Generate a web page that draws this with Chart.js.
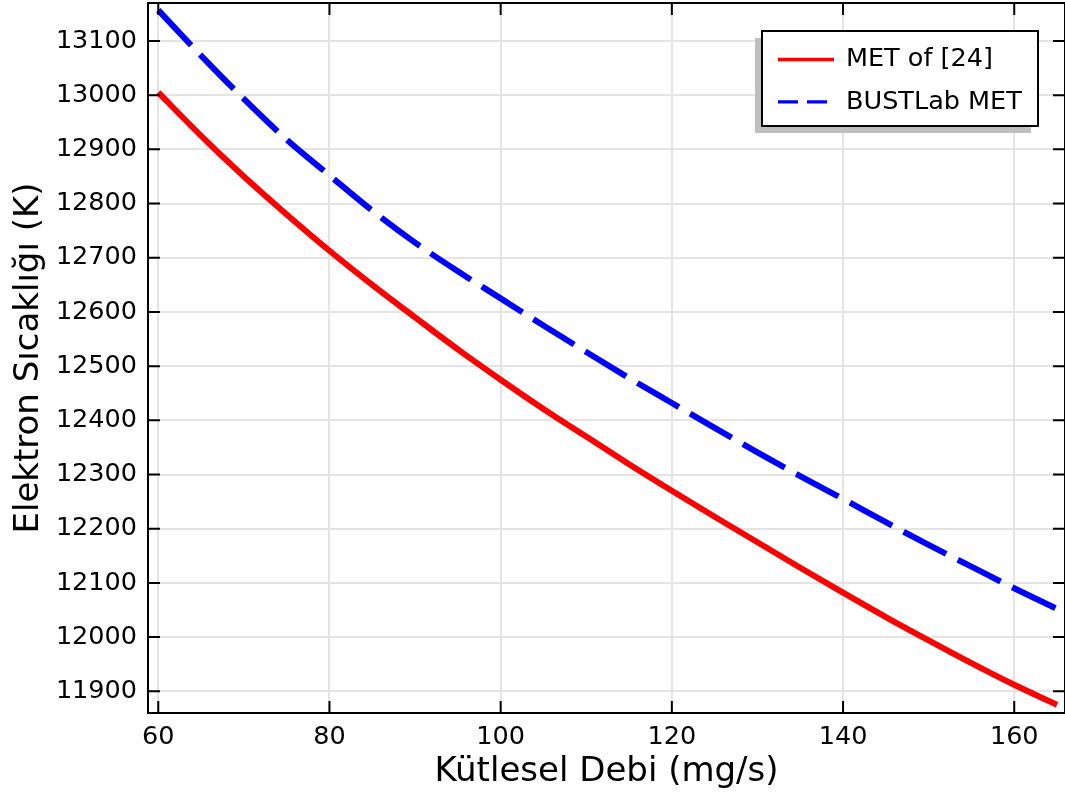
<!DOCTYPE html>
<html>
<head>
<meta charset="utf-8">
<script src="https://cdn.jsdelivr.net/npm/chart.js@4.4.1/dist/chart.umd.min.js"></script>
<style>
html,body{margin:0;padding:0;background:#fff;overflow:hidden}
canvas{display:block}
</style>
</head>
<body>
<canvas id="chart" width="1065" height="796"></canvas>
<script>
// mass flow rate (mg/s) and electron temperature (K) for both thrusters
const massFlow=[60,65,70,75,80,85,90,95,100,105,110,115,120,125,130,135,140,145,150,155,160,165];
const metRef=[13005,12925,12850,12780,12713,12650,12590,12531,12475,12421,12370,12319,12270,12222,12175,12128,12082,12037,11994,11952,11912,11875];
const bustlab=[13157,13073,12993,12918,12852,12787,12728,12675,12625,12575,12526,12478,12432,12386,12341,12297,12255,12212,12170,12130,12090,12052];
const seriesNames=['MET of [24]','BUSTLab MET'];
const xTicks=[60,80,100,120,140,160];
const yTicks=[11900,12000,12100,12200,12300,12400,12500,12600,12700,12800,12900,13000,13100];

const FONT='"DejaVu Sans", sans-serif';
const pts=ys=>massFlow.map((x,i)=>({x:x,y:ys[i]}));

// closed box around the plot with inward tick marks on every side
const frame={
id:'frame',
afterDraw(chart){
const {ctx,chartArea:a,scales:{x,y}}=chart;
ctx.save();
ctx.strokeStyle='#000';
ctx.lineWidth=2;
ctx.strokeRect(a.left,a.top,a.right-a.left,a.bottom-a.top);
const L=12;
ctx.beginPath();
xTicks.forEach(v=>{
const p=x.getPixelForValue(v);
ctx.moveTo(p,a.bottom);ctx.lineTo(p,a.bottom-L);
ctx.moveTo(p,a.top);ctx.lineTo(p,a.top+L);
});
yTicks.forEach(v=>{
const p=y.getPixelForValue(v);
ctx.moveTo(a.left,p);ctx.lineTo(a.left+L,p);
ctx.moveTo(a.right,p);ctx.lineTo(a.right-L,p);
});
ctx.stroke();
ctx.restore();
}
};

// legend box with drop shadow in the top right corner
const keyBox={
id:'keyBox',
afterDraw(chart){
const ctx=chart.ctx;
const bx=762,by=31,bw=276,bh=95;
ctx.save();
ctx.fillStyle='#bfbfbf';
ctx.fillRect(bx-7,by+7,bw,bh);
ctx.fillStyle='#fff';
ctx.fillRect(bx,by,bw,bh);
ctx.strokeStyle='#000';
ctx.lineWidth=2;
ctx.strokeRect(bx,by,bw,bh);
chart.data.datasets.forEach((ds,i)=>{
const yy=by+28.5+i*42.4;
ctx.strokeStyle=ds.borderColor;
ctx.lineWidth=3.3;
ctx.setLineDash(ds.borderDash?[20,9]:[]);
ctx.beginPath();
ctx.moveTo(778,yy);ctx.lineTo(834,yy);
ctx.stroke();
ctx.setLineDash([]);
ctx.fillStyle='#000';
ctx.font='25.5px '+FONT;
ctx.textBaseline='middle';
ctx.fillText(ds.label,846,yy);
});
ctx.restore();
}
};

new Chart(document.getElementById('chart'),{
type:'line',
data:{datasets:[
{label:seriesNames[0],data:pts(metRef),borderColor:'#ff0000',borderWidth:6,pointRadius:0,cubicInterpolationMode:'monotone'},
{label:seriesNames[1],data:pts(bustlab),borderColor:'#0000ff',borderWidth:6,borderDash:[48,13],pointRadius:0,cubicInterpolationMode:'monotone'}
]},
options:{
responsive:false,
animation:false,
layout:{padding:{top:3,right:0,bottom:0,left:0}},
plugins:{legend:{display:false},tooltip:{enabled:false}},
scales:{
x:{
type:'linear',min:58.8,max:165.93,
afterBuildTicks:s=>{s.ticks=xTicks.map(v=>({value:v}));},
afterFit:s=>{s.height=83;s.paddingLeft=0;s.paddingRight=0;},
grid:{color:'#e4e4e4',lineWidth:2,drawTicks:false},
border:{display:false},
ticks:{color:'#000',font:{family:FONT,size:25.5},padding:9,maxRotation:0,autoSkip:false,callback:v=>String(v)},
title:{display:true,text:'Kütlesel Debi (mg/s)',color:'#000',font:{family:FONT,size:34},padding:{top:0,bottom:3}}
},
y:{
type:'linear',min:11859.9,max:13170.1,
afterBuildTicks:s=>{s.ticks=yTicks.map(v=>({value:v}));},
afterFit:s=>{s.width=148;s.paddingTop=0;s.paddingBottom=0;},
grid:{color:'#e4e4e4',lineWidth:2,drawTicks:false},
border:{display:false},
ticks:{color:'#000',font:{family:FONT,size:25.5},padding:11,autoSkip:false,callback:v=>String(v)},
title:{display:true,text:'Elektron Sıcaklığı (K)',color:'#000',font:{family:FONT,size:34},padding:{top:9,bottom:0}}
}
}
},
plugins:[frame,keyBox]
});
</script>
</body>
</html>
